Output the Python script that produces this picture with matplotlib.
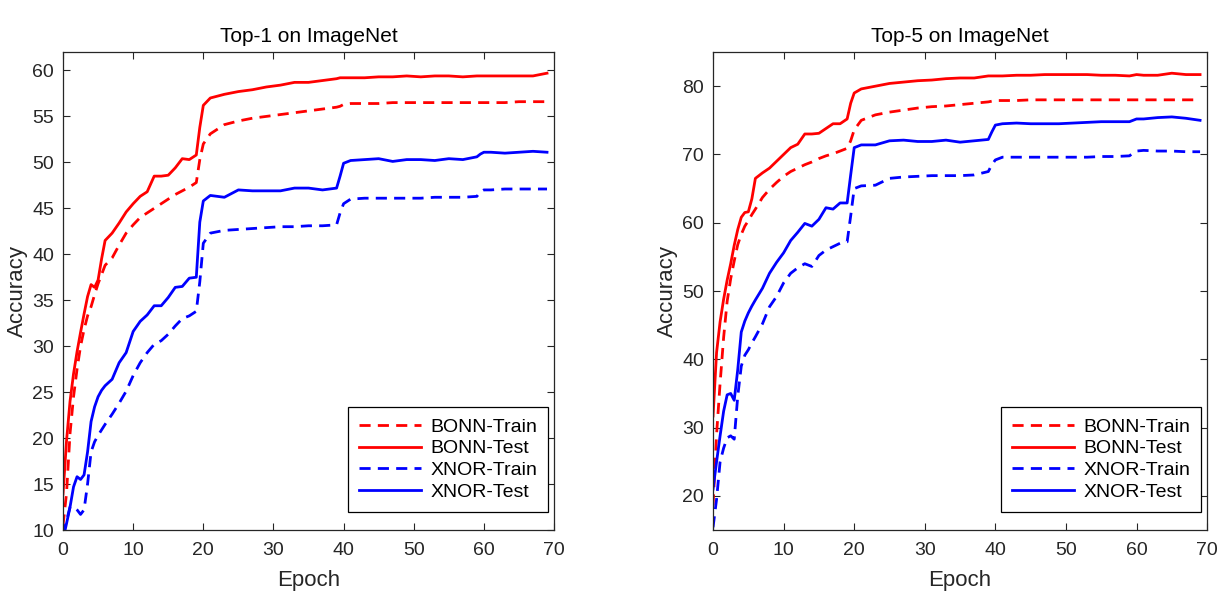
import numpy as np
import matplotlib
matplotlib.use('Agg')
import matplotlib.pyplot as plt

# shared epoch grid for all curves
epochs = [0, 0.5, 1, 1.5, 2, 2.5, 3, 3.5, 4, 4.5, 5, 5.5, 6, 7, 8, 9, 10, 11, 12, 13,
          14, 15, 16, 17, 18, 19, 19.5, 20, 21, 23, 25, 27, 29, 31, 33, 35, 37, 39,
          39.5, 40, 41, 43, 45, 47, 49, 51, 53, 55, 57, 59, 59.5, 60, 61, 63, 65, 67, 69]

# Top-1
top1_bonn_train = [10.5, 14.0, 20.5, 24.5, 27.5, 30.0, 31.8, 33.3, 34.3, 35.6, 36.8, 37.8, 38.8,
                   39.6, 41.0, 42.3, 43.2, 44.0, 44.5, 45.0, 45.5, 46.0, 46.5, 46.9, 47.3, 47.8,
                   50.3, 52.0, 53.1, 54.1, 54.5, 54.8, 55.0, 55.2, 55.4, 55.6, 55.8, 56.0,
                   56.1, 56.3, 56.4, 56.4, 56.4, 56.5, 56.5, 56.5, 56.5, 56.5, 56.5, 56.5,
                   56.5, 56.5, 56.5, 56.5, 56.6, 56.6, 56.6]
top1_bonn_test = [13.9, 19.7, 24.0, 27.0, 29.4, 31.5, 33.5, 35.4, 36.7, 36.4, 37.2, 39.5, 41.5,
                  42.3, 43.4, 44.6, 45.5, 46.3, 46.8, 48.5, 48.5, 48.6, 49.4, 50.4, 50.3, 50.8,
                  53.8, 56.2, 57.0, 57.4, 57.7, 57.9, 58.2, 58.4, 58.7, 58.7, 58.9, 59.1,
                  59.2, 59.2, 59.2, 59.2, 59.3, 59.3, 59.4, 59.3, 59.4, 59.4, 59.3, 59.4,
                  59.4, 59.4, 59.4, 59.4, 59.4, 59.4, 59.7]
top1_xnor_train = [9.5, 11.0, 12.5, 12.6, 12.2, 11.7, 12.2, 15.0, 18.5, 19.6, 20.3, 20.9, 21.5,
                   22.6, 23.8, 25.1, 26.8, 28.2, 29.3, 30.2, 30.6, 31.3, 32.2, 33.0, 33.3, 33.8,
                   37.0, 41.2, 42.3, 42.6, 42.7, 42.8, 42.9, 43.0, 43.0, 43.1, 43.1, 43.2,
                   44.5, 45.5, 46.0, 46.1, 46.1, 46.1, 46.1, 46.1, 46.2, 46.2, 46.2, 46.3,
                   46.8, 47.0, 47.0, 47.1, 47.1, 47.1, 47.1]
top1_xnor_test = [9.0, 10.7, 12.5, 14.7, 15.8, 15.5, 16.0, 18.5, 21.8, 23.4, 24.5, 25.2, 25.7,
                  26.4, 28.2, 29.3, 31.6, 32.7, 33.4, 34.4, 34.4, 35.3, 36.4, 36.5, 37.4, 37.5,
                  43.5, 45.8, 46.4, 46.2, 47.0, 46.9, 46.9, 46.9, 47.2, 47.2, 47.0, 47.2,
                  48.5, 49.9, 50.2, 50.3, 50.4, 50.1, 50.3, 50.3, 50.2, 50.4, 50.3, 50.6,
                  50.9, 51.1, 51.1, 51.0, 51.1, 51.2, 51.1]

# Top-5
top5_bonn_train = [18.6, 29.0, 36.5, 43.2, 48.5, 51.8, 54.4, 56.8, 58.3, 59.5, 60.3, 61.2, 62.0,
                   63.7, 64.9, 65.9, 66.8, 67.5, 68.0, 68.5, 68.9, 69.4, 69.8, 70.1, 70.5, 70.9,
                   72.0, 73.6, 75.0, 75.8, 76.2, 76.5, 76.8, 77.0, 77.1, 77.3, 77.5, 77.7,
                   77.8, 77.9, 77.9, 77.9, 78.0, 78.0, 78.0, 78.0, 78.0, 78.0, 78.0, 78.0,
                   78.0, 78.0, 78.0, 78.0, 78.0, 78.0, 78.0]
top5_bonn_test = [31.7, 41.0, 45.5, 48.8, 51.6, 54.0, 56.7, 59.0, 60.8, 61.5, 61.6, 63.5, 66.5,
                  67.3, 68.0, 69.0, 70.0, 71.0, 71.5, 73.0, 73.0, 73.1, 73.8, 74.5, 74.5, 75.2,
                  77.5, 79.0, 79.6, 80.0, 80.4, 80.6, 80.8, 80.9, 81.1, 81.2, 81.2, 81.5,
                  81.5, 81.5, 81.5, 81.6, 81.6, 81.7, 81.7, 81.7, 81.7, 81.6, 81.6, 81.5,
                  81.6, 81.7, 81.6, 81.6, 81.9, 81.7, 81.7]
top5_xnor_train = [15.4, 19.5, 25.0, 27.0, 28.5, 28.8, 28.3, 34.6, 39.0, 40.6, 41.4, 42.4, 43.3,
                   45.2, 47.7, 49.2, 51.2, 52.6, 53.4, 54.0, 53.6, 55.2, 56.0, 56.5, 57.0, 57.2,
                   61.0, 65.0, 65.4, 65.5, 66.5, 66.7, 66.8, 66.9, 66.9, 66.9, 67.0, 67.5,
                   68.5, 69.2, 69.6, 69.6, 69.6, 69.6, 69.6, 69.6, 69.6, 69.7, 69.7, 69.8,
                   70.2, 70.5, 70.6, 70.5, 70.5, 70.4, 70.4]
top5_xnor_test = [21.0, 25.0, 28.8, 32.4, 34.8, 35.0, 34.0, 38.5, 44.0, 45.6, 46.8, 47.8, 48.7,
                  50.4, 52.6, 54.2, 55.6, 57.4, 58.6, 59.9, 59.5, 60.5, 62.2, 62.0, 62.9, 62.9,
                  67.0, 71.0, 71.4, 71.4, 72.0, 72.1, 71.9, 71.9, 72.1, 71.8, 72.0, 72.2,
                  73.3, 74.3, 74.5, 74.6, 74.5, 74.5, 74.5, 74.6, 74.7, 74.8, 74.8, 74.8,
                  75.0, 75.2, 75.2, 75.4, 75.5, 75.3, 75.0]

labels = ['BONN-Train', 'BONN-Test', 'XNOR-Train', 'XNOR-Test']
titles = ['Top-1 on ImageNet', 'Top-5 on ImageNet']
ylims = [(10, 62), (15, 85)]
yticks = [np.arange(10, 61, 5), np.arange(20, 81, 10)]


def run():
    plt.rcParams['font.family'] = ['Liberation Sans', 'DejaVu Sans']
    fig = plt.figure(figsize=(12.26, 6.03), dpi=100)
    axes = [fig.add_axes([0.0514, 0.121, 0.4005, 0.7927]),
            fig.add_axes([0.5816, 0.121, 0.4030, 0.7927])]
    data = [(top1_bonn_train, top1_bonn_test, top1_xnor_train, top1_xnor_test),
            (top5_bonn_train, top5_bonn_test, top5_xnor_train, top5_xnor_test)]
    dash = (0, (4, 2.6))
    styles = [('#ff0000', dash), ('#ff0000', '-'), ('#0000ff', dash), ('#0000ff', '-')]
    gray = '#262626'
    for k, ax in enumerate(axes):
        for series, (c, ls), lab in zip(data[k], styles, labels):
            ax.plot(epochs, series, color=c, linestyle=ls, lw=2.0, label=lab)
        ax.set_xlim(0, 70)
        ax.set_ylim(*ylims[k])
        ax.set_xticks(np.arange(0, 71, 10))
        ax.set_yticks(yticks[k])
        ax.tick_params(direction='in', top=True, right=True, labelsize=14,
                       colors=gray, length=5, width=0.8)
        ax.tick_params(axis='x', pad=8.5)
        ax.tick_params(axis='y', pad=6.5)
        for s in ax.spines.values():
            s.set_color(gray)
            s.set_linewidth(0.9)
        ax.set_title(titles[k], fontsize=15, color='black', pad=7)
        ax.set_xlabel('Epoch', fontsize=16, color=gray, labelpad=8)
        ax.set_ylabel('Accuracy', fontsize=16, color=gray, labelpad=3)
        leg = ax.legend(loc='lower right', bbox_to_anchor=(0.988, 0.038), fontsize=14,
                        frameon=True, fancybox=False, edgecolor='black', framealpha=1,
                        handlelength=3.2, handletextpad=0.5, borderpad=0.55,
                        labelspacing=0.22, borderaxespad=0)
        leg.get_frame().set_linewidth(0.9)
    fig.savefig('out.png', dpi=100)


if __name__ == '__main__':
    run()
